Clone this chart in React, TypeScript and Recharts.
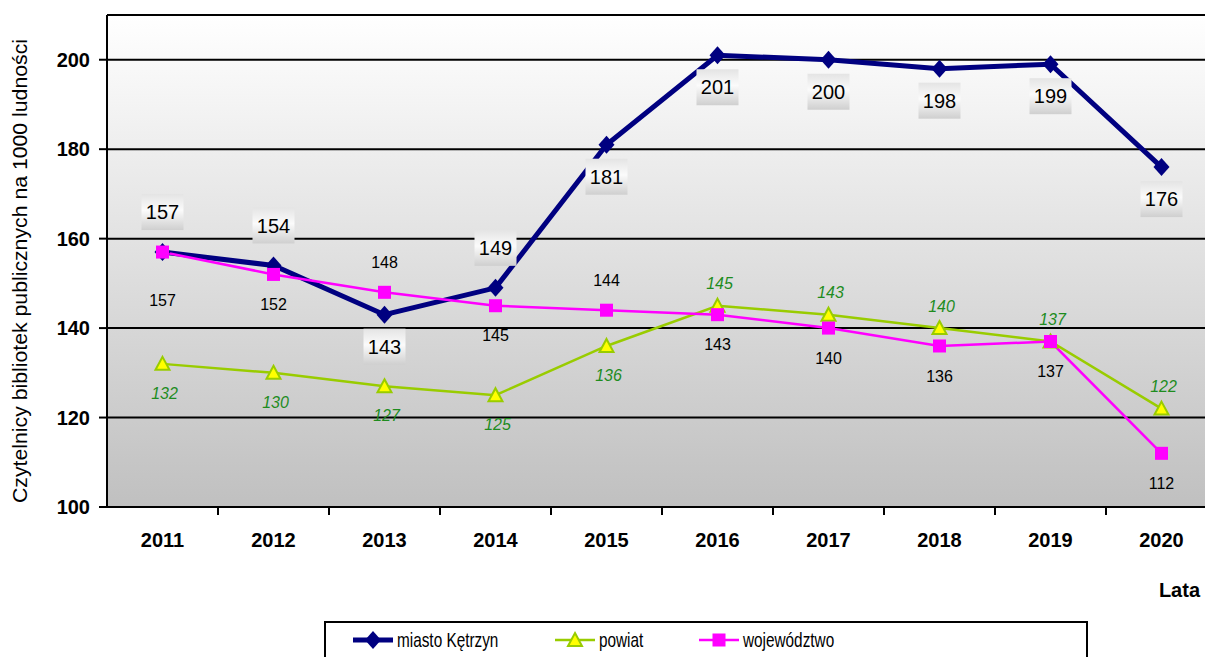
import React from "react";
import { LineChart, Line, XAxis, YAxis, CartesianGrid, LabelList } from "recharts";

const YEARS = ["2011", "2012", "2013", "2014", "2015", "2016", "2017", "2018", "2019", "2020"];
const MIASTO = [157, 154, 143, 149, 181, 201, 200, 198, 199, 176];
const POWIAT = [132, 130, 127, 125, 136, 145, 143, 140, 137, 122];
const WOJEWODZTWO = [157, 152, 148, 145, 144, 143, 140, 136, 137, 112];
const Y_TICKS = [100, 120, 140, 160, 180, 200];

// label placement (above / below the point), per year
const MIASTO_SIDE = ["up", "up", "down", "up", "down", "down", "down", "down", "down", "down"];
const POWIAT_SIDE = ["down", "down", "down", "down", "down", "up", "up", "up", "up", "up"];
const WOJ_SIDE = ["down", "down", "up", "down", "up", "down", "down", "down", "down", "down"];

const data = YEARS.map((year, i) => ({
  year,
  miasto: MIASTO[i],
  powiat: POWIAT[i],
  woj: WOJEWODZTWO[i],
}));

const FONT = "Arial, 'Liberation Sans', sans-serif";
const CHART_W = 1217;
const CHART_H = 657;
const PLOT_LEFT = 107;
const PLOT_TOP = 15;
const X_AXIS_H = 150;
const PLOT_BOTTOM = CHART_H - X_AXIS_H;
const BAND = (CHART_W - PLOT_LEFT) / YEARS.length;

const NAVY = "#000080";
const LIME = "#99cc00";
const MAGENTA = "#ff00ff";

const Diamond = (p: any) => {
  const { cx, cy, index } = p;
  if (cx == null || cy == null) return <g key={index} />;
  return <path key={index} d={`M${cx},${cy - 9}L${cx + 8},${cy}L${cx},${cy + 9}L${cx - 8},${cy}Z`} fill={NAVY} />;
};

const Triangle = (p: any) => {
  const { cx, cy, index } = p;
  if (cx == null || cy == null) return <g key={index} />;
  return (
    <path
      key={index}
      d={`M${cx},${cy - 7}L${cx + 7},${cy + 6}L${cx - 7},${cy + 6}Z`}
      fill="#ffff00"
      stroke={LIME}
      strokeWidth={2}
    />
  );
};

const Square = (p: any) => {
  const { cx, cy, index } = p;
  if (cx == null || cy == null) return <g key={index} />;
  return <rect key={index} x={cx - 6.5} y={cy - 6.5} width={13} height={13} fill={MAGENTA} />;
};

const MiastoLabel = (p: any) => {
  const { x, y, value, index } = p;
  const cy = MIASTO_SIDE[index] === "up" ? y - 40 : y + 32;
  return (
    <g>
      <rect x={x - 21} y={cy - 18} width={42} height={36} fill="url(#boxGrad)" />
      <text x={x} y={cy} dy="0.36em" textAnchor="middle" fontSize={20} fontFamily={FONT} fill="#000">
        {value}
      </text>
    </g>
  );
};

const PowiatLabel = (p: any) => {
  const { x, y, value, index } = p;
  const ty = POWIAT_SIDE[index] === "up" ? y - 22 : y + 29;
  return (
    <text x={x + 2} y={ty} dy="0.36em" textAnchor="middle" fontSize={16} fontStyle="italic" fontFamily={FONT} fill="#1e8c1e">
      {value}
    </text>
  );
};

const WojLabel = (p: any) => {
  const { x, y, value, index } = p;
  let ty = WOJ_SIDE[index] === "up" ? y - 30 : y + 30;
  if (index === 0) ty = y + 48;
  return (
    <text x={x} y={ty} dy="0.36em" textAnchor="middle" fontSize={16} fontFamily={FONT} fill="#000">
      {value}
    </text>
  );
};

const XTick = (p: any) => {
  const { x, payload, index } = p;
  return (
    <g>
      {index < YEARS.length - 1 && (
        <line x1={x + BAND / 2} x2={x + BAND / 2} y1={PLOT_BOTTOM} y2={PLOT_BOTTOM + 8} stroke="#000" strokeWidth={2} />
      )}
      <text x={x} y={PLOT_BOTTOM + 40} textAnchor="middle" fontSize={20} fontWeight="bold" fontFamily={FONT} fill="#000">
        {payload.value}
      </text>
    </g>
  );
};

const LegendIcon = ({ color, width, marker }: { color: string; width: number; marker: React.ReactNode }) => (
  <svg width={40} height={20} style={{ display: "block" }}>
    <line x1={0} x2={40} y1={10} y2={10} stroke={color} strokeWidth={width} />
    {marker}
  </svg>
);

const legendText: React.CSSProperties = {
  display: "inline-block",
  transform: "scaleX(0.73)",
  transformOrigin: "left center",
  whiteSpace: "nowrap",
};

export default function App() {
  const midY = (PLOT_TOP + PLOT_BOTTOM) / 2 + 10;
  return (
    <div style={{ position: "absolute", left: 0, top: 0, width: 1205, height: 657, overflow: "hidden", background: "#fff" }}>
      <LineChart width={CHART_W} height={CHART_H} data={data} margin={{ top: PLOT_TOP, right: 0, bottom: 0, left: 0 }}>
        <defs>
          <linearGradient id="bgGrad" x1="0" y1="0" x2="0" y2="1">
            <stop offset="0%" stopColor="#ffffff" />
            <stop offset="100%" stopColor="#c0c0c0" />
          </linearGradient>
          <linearGradient id="boxGrad" x1="0" y1="0" x2="0" y2="1">
            <stop offset="0%" stopColor="#e4e4e4" />
            <stop offset="45%" stopColor="#fbfbfb" />
            <stop offset="100%" stopColor="#cfcfcf" />
          </linearGradient>
        </defs>
        <CartesianGrid vertical={false} stroke="#000" strokeWidth={2} fill="url(#bgGrad)" fillOpacity={1} />
        <XAxis
          dataKey="year"
          height={X_AXIS_H}
          padding={{ left: BAND / 2, right: BAND / 2 }}
          axisLine={{ stroke: "#000", strokeWidth: 2 }}
          tickLine={false}
          tick={<XTick />}
          interval={0}
          label={{
            content: () => (
              <text x={1200} y={597} textAnchor="end" fontSize={20} fontWeight="bold" fontFamily={FONT} fill="#000">
                Lata
              </text>
            ),
          }}
        />
        <YAxis
          width={PLOT_LEFT}
          domain={[100, 210]}
          ticks={Y_TICKS}
          interval={0}
          axisLine={{ stroke: "#000", strokeWidth: 2 }}
          tickLine={{ stroke: "#000", strokeWidth: 2 }}
          tickSize={8}
          tickMargin={9}
          tick={{ fontSize: 20, fontWeight: "bold", fontFamily: FONT, fill: "#000" }}
          label={{
            content: () => (
              <text
                x={27}
                y={midY}
                transform={`rotate(-90, 27, ${midY})`}
                textAnchor="middle"
                fontSize={20}
                textLength={464}
                lengthAdjust="spacingAndGlyphs"
                fontFamily={FONT}
                fill="#000"
              >
                Czytelnicy bibliotek publicznych na 1000 ludności
              </text>
            ),
          }}
        />
        <Line dataKey="miasto" stroke={NAVY} strokeWidth={5} dot={Diamond} activeDot={false} isAnimationActive={false}>
          <LabelList dataKey="miasto" content={<MiastoLabel />} />
        </Line>
        <Line dataKey="powiat" stroke={LIME} strokeWidth={2.5} dot={Triangle} activeDot={false} isAnimationActive={false}>
          <LabelList dataKey="powiat" content={<PowiatLabel />} />
        </Line>
        <Line dataKey="woj" stroke={MAGENTA} strokeWidth={2.5} dot={Square} activeDot={false} isAnimationActive={false}>
          <LabelList dataKey="woj" content={<WojLabel />} />
        </Line>
      </LineChart>
      <div
        style={{
          position: "absolute",
          left: 324,
          top: 621,
          width: 760,
          height: 60,
          border: "2px solid #000",
          background: "#fff",
          fontFamily: FONT,
          fontSize: 21,
          color: "#000",
        }}
      >
        <div style={{ position: "absolute", left: 27, top: 5, display: "flex", alignItems: "center", gap: 4 }}>
          <LegendIcon color={NAVY} width={5} marker={<path d="M20,1L28,10L20,19L12,10Z" fill={NAVY} />} />
          <span style={legendText}>miasto Kętrzyn</span>
        </div>
        <div style={{ position: "absolute", left: 229, top: 5, display: "flex", alignItems: "center", gap: 4 }}>
          <LegendIcon
            color={LIME}
            width={2.5}
            marker={<path d="M20,3L27,16L13,16Z" fill="#ffff00" stroke={LIME} strokeWidth={2} />}
          />
          <span style={legendText}>powiat</span>
        </div>
        <div style={{ position: "absolute", left: 373, top: 5, display: "flex", alignItems: "center", gap: 4 }}>
          <LegendIcon color={MAGENTA} width={2.5} marker={<rect x={13.5} y={3.5} width={13} height={13} fill={MAGENTA} />} />
          <span style={legendText}>województwo</span>
        </div>
      </div>
    </div>
  );
}
